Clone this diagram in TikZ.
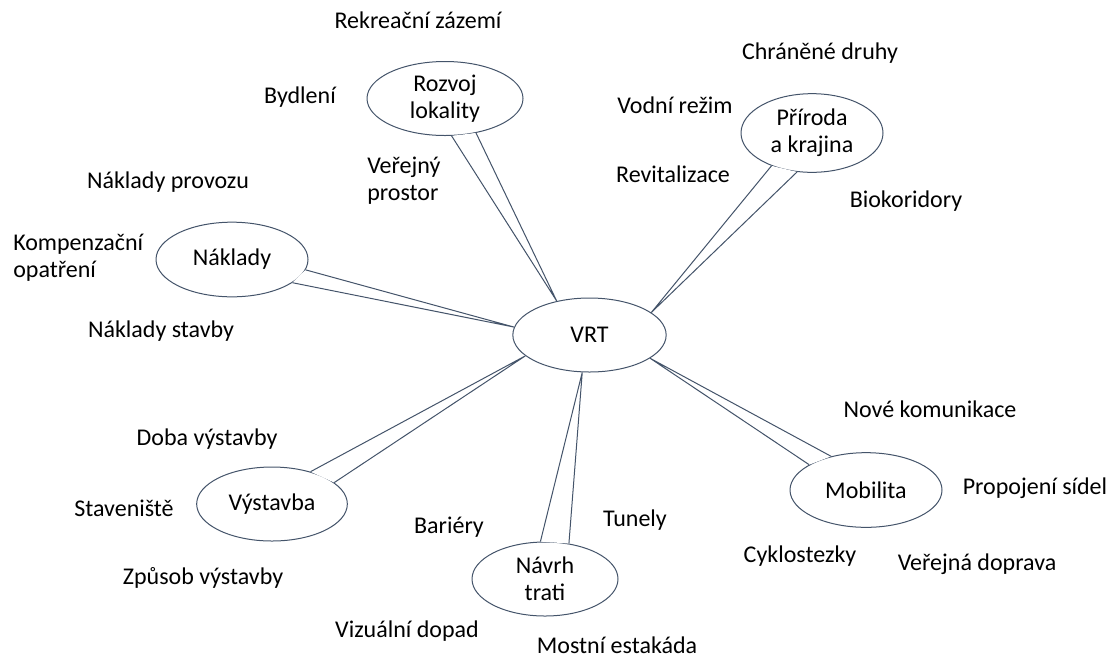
\documentclass[tikz,border=0pt]{standalone}
\usepackage{fontspec}
\setmainfont{Carlito}
\usepackage{xcolor}
\usepackage{tikz}
\usetikzlibrary{shapes.geometric}
\definecolor{edgecol}{HTML}{44546A}

\begin{document}
\begin{tikzpicture}[
  x=0.75pt, y=-0.75pt,
  font=\fontsize{18pt}{20.25pt}\selectfont,
  bubble/.style={ellipse, draw=edgecol, fill=white, line width=0.75pt, minimum width=114pt, minimum height=56pt, inner sep=0pt, align=center},
  pointer/.style={draw=edgecol, fill=white, line width=0.75pt, line join=miter},
  topic/.style={inner sep=0pt, text=black},
]
\useasboundingbox (0,0) rectangle (1112,658);

% Bubbles
\node[bubble, minimum width=115pt, minimum height=55.5pt] (vrt) at (589.5,335) {VRT};
\node[bubble, minimum width=117pt, minimum height=55.5pt] (roz) at (445,98.5) {Rozvoj\\lokality};
\node[bubble, minimum width=106.5pt, minimum height=59pt] (pri) at (812,133) {Příroda\\a krajina};
\node[bubble] (nak) at (232,259.5) {Náklady};
\node[bubble, minimum width=113pt, minimum height=55.5pt] (vys) at (272,504) {Výstavba};
\node[bubble, minimum width=109.5pt, minimum height=55.5pt] (nav) at (545,579) {Návrh\\trati};
\node[bubble] (mob) at (866,490) {Mobilita};

% Pointers to VRT
\draw[pointer] (roz.-80) -- (vrt.134.6) -- (roz.-48);
\draw[pointer] (pri.-141.5) -- (vrt.20.8) -- (pri.-111.5);
\draw[pointer] (nak.-8) -- (vrt.174.6) -- (nak.-21);
\draw[pointer] (vys.40) -- (vrt.198.3) -- (vys.19.8);
\draw[pointer] (nav.97) -- (vrt.259.4) -- (nav.56);
\draw[pointer] (mob.136.6) -- (vrt.339.9) -- (mob.156.7);

% Rozvoj lokality
\node[topic] (rekr) at (418,20) {Rekreační zázemí};
\node[topic] (bydl) at (300,97) {Bydlení};
\node[topic, anchor=west, align=left] (verp) at (367,181) {Veřejný\\prostor};

% Priroda a krajina
\node[topic] (chran) at (820,53) {Chráněné druhy};
\node[topic] (vodni) at (675,105) {Vodní režim};
\node[topic] (revit) at (673,174) {Revitalizace};
\node[topic] (bioko) at (906,201) {Biokoridory};

% Naklady
\node[topic] (nprov) at (168,182) {Náklady provozu};
\node[topic, anchor=west, align=left] (komp) at (13,258) {Kompenzační\\opatření};
\node[topic] (nstav) at (161,331) {Náklady stavby};

% Vystavba
\node[topic] (doba) at (207,439) {Doba výstavby};
\node[topic] (stav) at (124,508) {Staveniště};
\node[topic] (zpus) at (203,578) {Způsob výstavby};

% Navrh trati
\node[topic] (bari) at (449,527) {Bariéry};
\node[topic] (tune) at (635,520) {Tunely};
\node[topic] (vizu) at (407,631) {Vizuální dopad};
\node[topic] (most) at (617,645) {Mostní estakáda};

% Mobilita
\node[topic] (nkom) at (930,409) {Nové komunikace};
\node[topic] (prop) at (1035,488) {Propojení sídel};
\node[topic] (cykl) at (800,556) {Cyklostezky};
\node[topic] (vdop) at (977,564) {Veřejná doprava};
\end{tikzpicture}
\end{document}
